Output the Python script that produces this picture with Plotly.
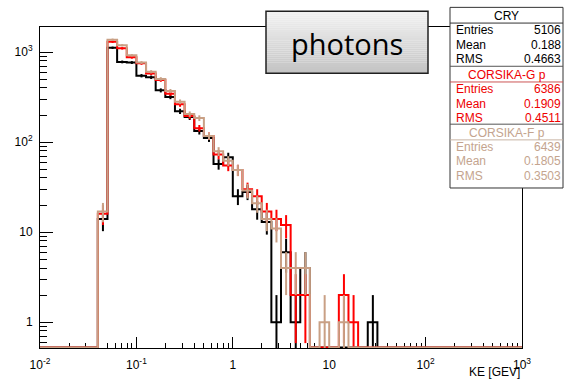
import numpy as np
import plotly.graph_objects as go

# ---------------- data ----------------
# 50 log bins from 1e-2 to 1e3 GeV (10 bins per decade)
bin_lo_exp, bin_hi_exp, n_bins = -2, 3, 50

cry = [0, 0, 0, 0, 0, 0, 14, 1117, 778, 766, 547, 526, 376, 318, 220, 190,
       133, 111, 57, 68, 25, 28, 18, 13, 1, 6, 1, 4, 0, 0,
       0, 0, 0, 0, 1, 0, 0, 0, 0, 0, 0, 0, 0, 0, 0, 0, 0, 0, 0, 0]
corsika_g = [0, 0, 0, 0, 0, 0, 16, 1300, 1100, 875, 750, 580, 490, 345, 263, 195,
             143, 117, 73, 55, 49, 30, 25, 17, 14, 12, 2, 2, 0, 0,
             0, 2, 1, 0, 0, 0, 0, 0, 0, 0, 0, 0, 0, 0, 0, 0, 0, 0, 0, 0]
corsika_f = [0, 0, 0, 0, 0, 0, 17, 1375, 1192, 920, 766, 605, 504, 370, 281, 205,
             185, 117, 79, 62, 49, 29, 21, 14, 11, 4, 4, 4, 0, 1,
             0, 1, 0, 0, 0, 0, 0, 0, 0, 0, 0, 0, 0, 0, 0, 0, 0, 0, 0, 0]

series_names = ["CRY", "CORSIKA-G p", "CORSIKA-F p"]
stat_entries = ["5106", "6386", "6439"]
stat_means = ["0.188", "0.1909", "0.1805"]
stat_rms = ["0.4663", "0.4511", "0.3503"]

x_tickvals = [1e-2, 1e-1, 1, 10, 100, 1000]
x_ticktext = ["10<sup>-2</sup>", "10<sup>-1</sup>", "1", "10", "10<sup>2</sup>", "10<sup>3</sup>"]
y_tickvals = [1, 10, 100, 1000]
y_ticktext = ["1", "10", "10<sup>2</sup>", "10<sup>3</sup>"]

# ---------------- style ----------------
colors = ["#000000", "#ff0000", "#c9a085"]
text_colors = ["#000000", "#ee0000", "#c4a48e"]
FONT = "Liberation Sans"
W, H = 564, 384
L, R, T, B = 40, 42, 27, 30
y_min, y_max = 0.517, 1900.0
floor_val = y_min * 1.015   # empty bins drawn along the bottom edge (ROOT style)

edges = 10 ** np.linspace(bin_lo_exp, bin_hi_exp, n_bins + 1)
centers = 0.5 * (edges[:-1] + edges[1:])

fig = go.Figure()

for counts, col, name in zip([cry, corsika_g, corsika_f], colors, series_names):
    c = np.array(counts, dtype=float)
    shown = np.where(c > 0, c, floor_val)
    xs = list(edges)
    ys = list(shown) + [shown[-1]]
    fig.add_trace(go.Scatter(x=xs, y=ys, mode="lines", line_shape="hv",
                             line=dict(color=col, width=2), name=name,
                             hoverinfo="skip", showlegend=False))
    ex, ey = [], []
    for xc, n in zip(centers, c):
        if n <= 0:
            continue
        err = np.sqrt(n)
        lo = max(n - err, y_min * 0.5)
        ex += [xc, xc, None]
        ey += [lo, n + err, None]
    fig.add_trace(go.Scatter(x=ex, y=ey, mode="lines",
                             line=dict(color=col, width=2),
                             hoverinfo="skip", showlegend=False))

def minor_vals(lo, hi):
    out = []
    for d in range(lo, hi):
        for m in range(2, 10):
            out.append(m * 10.0 ** d)
    return out

fig.update_xaxes(type="log", range=[bin_lo_exp, bin_hi_exp],
                 tickvals=x_tickvals, ticktext=x_ticktext,
                 ticks="inside", ticklen=11, tickwidth=1, tickcolor="black",
                 minor=dict(ticks="inside", ticklen=5, tickwidth=1, tickcolor="black",
                            tickvals=minor_vals(-2, 3), showgrid=False),
                 showgrid=False, zeroline=False, showline=True, linecolor="black",
                 linewidth=1, mirror=True, layer="below traces",
                 tickfont=dict(family=FONT, size=12, color="black"),
                 ticklabelstandoff=6)
fig.update_yaxes(type="log", range=[np.log10(y_min), np.log10(y_max)],
                 tickvals=y_tickvals, ticktext=y_ticktext,
                 ticks="inside", ticklen=13, tickwidth=1, tickcolor="black",
                 minor=dict(ticks="inside", ticklen=7, tickwidth=1, tickcolor="black",
                            tickvals=minor_vals(-1, 4), showgrid=False),
                 showgrid=False, zeroline=False, showline=True, linecolor="black",
                 linewidth=1, mirror=True, layer="below traces",
                 tickfont=dict(family=FONT, size=12, color="black"),
                 ticklabelstandoff=4)

pw, ph = W - L - R, H - T - B
def px(X):
    return (X - L) / pw
def py(Y):
    return (H - B - Y) / ph

shapes = []
annotations = []

# ---- "photons" box with vertical gradient ----
bx0, bx1, by0, by1 = 266, 428, 11, 74
nstrip = 30
for i in range(nstrip):
    t = i / (nstrip - 1)
    g = int(round(242 - t * (242 - 196)))
    ya = by0 + (by1 - by0) * i / nstrip
    yb = by0 + (by1 - by0) * (i + 1) / nstrip
    shapes.append(dict(type="rect", xref="paper", yref="paper",
                       x0=px(bx0), x1=px(bx1), y0=py(yb), y1=py(ya),
                       fillcolor=f"rgb({g},{g},{g})", line=dict(width=0), layer="above"))
shapes.append(dict(type="rect", xref="paper", yref="paper",
                   x0=px(bx0), x1=px(bx1), y0=py(by1), y1=py(by0),
                   fillcolor="rgba(0,0,0,0)", line=dict(color="#202020", width=1.5), layer="above"))
annotations.append(dict(text="photons", xref="paper", yref="paper",
                        x=px((bx0 + bx1) / 2), y=py((by0 + by1) / 2 + 1),
                        xanchor="center", yanchor="middle", showarrow=False,
                        font=dict(family="Open Sans", size=29, color="black")))

# ---- stats boxes ----
sx0, sx1 = 450, 563
shapes.append(dict(type="rect", xref="paper", yref="paper",
                   x0=px(sx0), x1=px(sx1), y0=py(191), y1=py(7),
                   fillcolor="white", line=dict(color="#333333", width=1), layer="above"))
section_tops = [7, 67, 126]
header_h = 16
row_h = 14.5
sep_colors = ["#333333", "#cc5555", "#c8b4a4"]
for k in range(3):
    top = section_tops[k]
    if k > 0:
        shapes.append(dict(type="line", xref="paper", yref="paper",
                           x0=px(sx0), x1=px(sx1), y0=py(top), y1=py(top),
                           line=dict(color="#555555", width=1), layer="above"))
    hy = top + header_h
    shapes.append(dict(type="line", xref="paper", yref="paper",
                       x0=px(sx0), x1=px(sx1), y0=py(hy), y1=py(hy),
                       line=dict(color=sep_colors[k], width=1), layer="above"))
    annotations.append(dict(text=series_names[k], xref="paper", yref="paper",
                            x=px((sx0 + sx1) / 2), y=py(top + header_h / 2 + 0.5),
                            xanchor="center", yanchor="middle", showarrow=False,
                            font=dict(family=FONT, size=12, color=text_colors[k])))
    labels = ["Entries", "Mean", "RMS"]
    vals = [stat_entries[k], stat_means[k], stat_rms[k]]
    for r in range(3):
        yy = hy + 7.5 + r * row_h
        annotations.append(dict(text=labels[r], xref="paper", yref="paper",
                                x=px(sx0 + 4), y=py(yy), xanchor="left", yanchor="middle",
                                showarrow=False,
                                font=dict(family=FONT, size=12, color=text_colors[k])))
        annotations.append(dict(text=vals[r], xref="paper", yref="paper",
                                x=px(sx1), y=py(yy), xanchor="right", yanchor="middle",
                                showarrow=False,
                                font=dict(family=FONT, size=12, color=text_colors[k])))

# ---- axis title ----
annotations.append(dict(text="KE [GEV]", xref="paper", yref="paper",
                        x=1.0, y=py(378), xanchor="right", yanchor="middle",
                        showarrow=False, font=dict(family=FONT, size=12, color="black")))

fig.update_layout(width=W, height=H, margin=dict(l=L, r=R, t=T, b=B),
                  paper_bgcolor="white", plot_bgcolor="white",
                  shapes=shapes, annotations=annotations, showlegend=False,
                  font=dict(family=FONT, size=12, color="black"))

fig.write_html("out.html")
